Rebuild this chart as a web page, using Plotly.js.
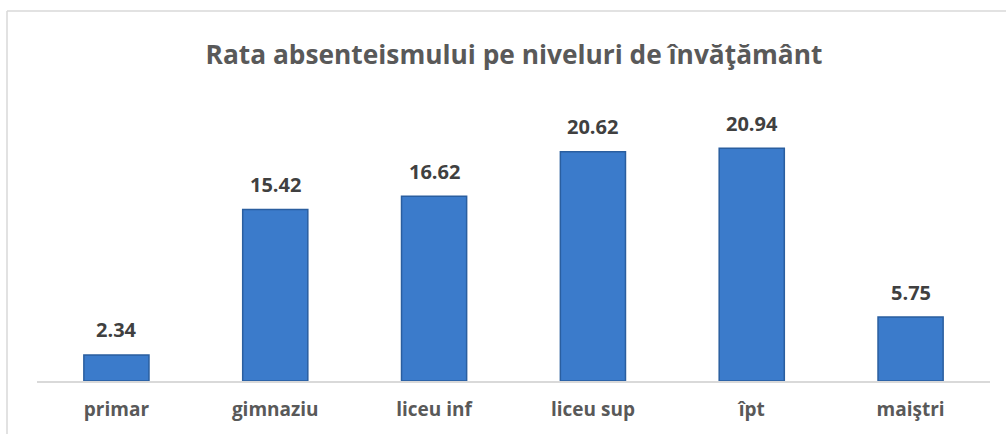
<!DOCTYPE html>
<html>
<head>
<meta charset="utf-8">
<script src="https://cdn.plot.ly/plotly-3.0.1.min.js"></script>
<style>
html,body{margin:0;padding:0;background:#fff;}
#chart{width:1006px;height:434px;}
</style>
</head>
<body>
<div id="chart"></div>
<script>
var categories = ["primar", "gimnaziu", "liceu inf", "liceu sup", "îpt", "maiştri"];
var values = [2.34, 15.42, 16.62, 20.62, 20.94, 5.75];
var valueLabels = ["2.34", "15.42", "16.62", "20.62", "20.94", "5.75"];
var chartTitle = "Rata absenteismului pe niveluri de învăţământ";

var W = 1006, H = 434;
var m = {l: 37, r: 16, t: 103, b: 53};
var pw = W - m.l - m.r, ph = H - m.t - m.b;
function px(x){ return (x - m.l) / pw; }
function py(y){ return (H - m.b - y) / ph; }

var trace = {
  type: "bar",
  x: categories,
  y: values,
  marker: {color: "#3b7bcb", line: {color: "#2a5e9f", width: 1.5}},
  hoverinfo: "x+y"
};

var annotations = categories.map(function(c, i){
  return {
    x: c, y: values[i], xref: "x", yref: "y",
    text: "<b>" + valueLabels[i] + "</b>",
    showarrow: false, xanchor: "center", yanchor: "middle", yshift: 25,
    font: {family: "Open Sans, sans-serif", size: 20, color: "#404040"}
  };
});

var layout = {
  width: W, height: H,
  margin: m,
  paper_bgcolor: "#ffffff",
  plot_bgcolor: "#ffffff",
  showlegend: false,
  bargap: 0.59,
  title: {
    text: "<b>" + chartTitle + "</b>",
    font: {family: "Open Sans, sans-serif", size: 26.3, color: "#595959"},
    xref: "paper", x: px(514), xanchor: "center",
    y: 1 - 55 / H, yanchor: "middle"
  },
  xaxis: {
    type: "category",
    showline: true, linecolor: "#d9d9d9", linewidth: 2,
    ticks: "", showgrid: false, zeroline: false,
    tickfont: {family: "Open Sans, sans-serif", size: 19, color: "#595959", weight: 700},
    ticklabelstandoff: 10
  },
  yaxis: {
    range: [0, 25],
    visible: false, showgrid: false, zeroline: false
  },
  annotations: annotations,
  shapes: [
    {type: "line", xref: "paper", yref: "paper", x0: px(7), x1: px(1010), y0: py(11), y1: py(11),
     line: {color: "#d9d9d9", width: 1.5}},
    {type: "line", xref: "paper", yref: "paper", x0: px(7), x1: px(7), y0: py(11), y1: py(440),
     line: {color: "#d9d9d9", width: 1.5}}
  ]
};

Plotly.newPlot("chart", [trace], layout, {displayModeBar: false, staticPlot: true});
</script>
</body>
</html>
